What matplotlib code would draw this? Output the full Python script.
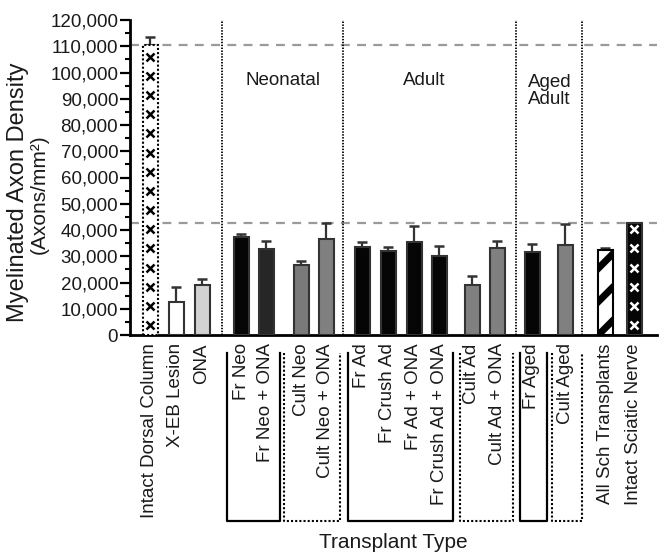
import numpy as np
import matplotlib
matplotlib.use("Agg")
import matplotlib.pyplot as plt
from matplotlib.ticker import FuncFormatter, MultipleLocator

plt.rcParams['font.family'] = ['Liberation Sans', 'DejaVu Sans']
plt.rcParams['hatch.linewidth'] = 5.0

# ---------------- data ----------------
categories = ["Intact Dorsal Column", "X-EB Lesion", "ONA",
              "Fr Neo", "Fr Neo + ONA", "Cult Neo", "Cult Neo + ONA",
              "Fr Ad", "Fr Crush Ad", "Fr Ad + ONA", "Fr Crush Ad + ONA",
              "Cult Ad", "Cult Ad + ONA",
              "Fr Aged", "Cult Aged",
              "All Sch Transplants", "Intact Sciatic Nerve"]
density = [110500, 12700, 19100,
           37200, 32600, 26700, 36400,
           33500, 32100, 35300, 30200,
           19100, 33000,
           31700, 34200,
           32400, 42800]
sem = [3000, 5700, 2200,
       1100, 3300, 1600, 6100,
       1800, 1500, 6300, 3800,
       3200, 2700,
       3000, 8100,
       600, 0]
reference_levels = [110500, 42800]
group_labels = ["Neonatal", "Adult", "Aged\nAdult"]
y_ticks = list(range(0, 120001, 10000))

# ---------------- layout / style ----------------
xpos = [20, 46, 72, 111, 136, 171, 196, 232, 258, 284, 309, 342, 367, 402, 435, 475, 504]
face = ["white", "white", "#d2d2d2",
        "#050505", "#262626", "#7a7a7a", "#808080",
        "#050505", "#050505", "#050505", "#050505",
        "#808080", "#808080",
        "#050505", "#808080",
        "white", "#050505"]
sep_x = [92, 213, 386, 452]
group_pos = [(153, 97000, 'center'), (294, 97000, 'center'), (398, 93000, 'left')]
brackets = [(97, 150, '-'), (154, 210, ':'), (218, 323, '-'), (330, 383, ':'),
            (390, 417, '-'), (422, 452, ':')]

W, H = 669, 559
fig = plt.figure(figsize=(W / 100, H / 100), dpi=100)
ax = fig.add_axes([130 / W, 1 - 335 / H, 527 / W, 315 / H])
ax.set_xlim(0, 527)
ax.set_ylim(0, 120000)

# reference dashed lines
for lv in reference_levels:
    ax.axhline(lv, color="#9a9a9a", lw=1.6, dashes=(4, 3.3), zorder=1)
# separators
for sx in sep_x:
    ax.axvline(sx, color="black", lw=1.3, ls=(0, (0.8, 0.8)), zorder=1)

bw = 15
for i, (x, v, e) in enumerate(zip(xpos, density, sem)):
    kw = dict(color=face[i], edgecolor="#333333", linewidth=1.5, zorder=3)
    if i == 0:
        kw.update(edgecolor="black", linestyle=(0, (1, 1)))
    if categories[i].startswith("All Sch"):
        kw.update(edgecolor="black", hatch="/")
    ax.bar(x, v, width=bw, **kw)
    if e > 0:
        ax.errorbar(x, v, yerr=[[0], [e]], fmt='none', ecolor="#333333",
                    elinewidth=1.6, capsize=3.6, capthick=1.8, zorder=2)

# x marks inside the intact tissue bars
for i, mc in [(0, "black"), (len(categories) - 1, "white")]:
    ys = np.arange(3800, density[i] - 2000, 7300)
    ax.plot(np.full(len(ys), xpos[i]), ys, ls='none', marker='x', ms=5.5,
            mew=1.8, color=mc, zorder=4)

# group labels
for (gx, gy, ha), lab in zip(group_pos, group_labels):
    ax.text(gx, gy, lab, ha=ha, va='center', fontsize=13.5, color="#1a1a1a",
            linespacing=1.05)

# brackets below axis
tr = ax.get_xaxis_transform()
y_top, y_bot = (335 - 353) / 315, (335 - 521) / 315
for x0, x1, ls in brackets:
    ax.plot([x0, x0, x1, x1], [y_top, y_bot, y_bot, y_top], transform=tr,
            color="black", lw=1.6 if ls == '-' else 1.5,
            ls='-' if ls == '-' else (0, (1, 1)), clip_on=False)

# axes styling
for s in ["top", "right"]:
    ax.spines[s].set_visible(False)
for s in ["left", "bottom"]:
    ax.spines[s].set_linewidth(2)
ax.set_yticks(y_ticks)
ax.yaxis.set_major_formatter(FuncFormatter(lambda v, p: f"{int(v):,}"))
ax.yaxis.set_minor_locator(MultipleLocator(5000))
ax.tick_params(axis='y', which='major', length=7, width=1.6, pad=1.5,
               labelsize=13.5, labelcolor="#1a1a1a")
ax.tick_params(axis='y', which='minor', length=3.5, width=1.5)
ax.set_xticks(xpos)
ax.set_xticklabels(categories, rotation=90, fontsize=13.5, color="#1a1a1a")
ax.tick_params(axis='x', length=0, pad=6)

fig.text(18 / W, 1 - 192 / H, "Myelinated Axon Density", rotation=90,
         ha='center', va='center', fontsize=17, color="#1a1a1a")
fig.text(39 / W, 1 - 194 / H, "(Axons/mm²)", rotation=90,
         ha='center', va='center', fontsize=15, color="#1a1a1a")
fig.text(393 / W, 1 - 542 / H, "Transplant Type", ha='center', va='center',
         fontsize=15, color="#1a1a1a")

fig.savefig("out.png", dpi=100)
